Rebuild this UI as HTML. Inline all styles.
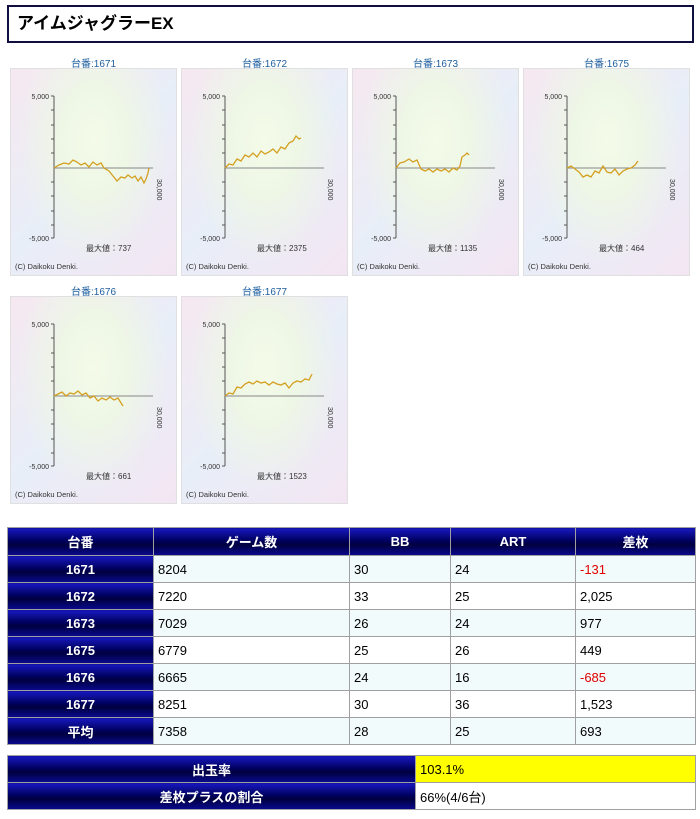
<!DOCTYPE html>
<html><head><meta charset="utf-8"><style>
body{margin:0;width:700px;height:819px;background:#fff;font-family:"Liberation Sans","Noto Sans CJK JP",sans-serif;position:relative;overflow:hidden}
.title{position:absolute;left:7px;top:5px;height:34px;border:2px solid #101040;font-weight:bold;font-size:17px;line-height:34px;padding-left:8px;box-sizing:content-box;width:675px}
.ct{position:absolute;width:167px;text-align:center;font-size:10px;color:#2060a0}
.pn{position:absolute;width:167px;height:208px;border:1px solid #e0e0e0;box-sizing:border-box;
background:radial-gradient(ellipse at 50% 35%,#f4fbe8 0%,#eef6e6 30%,rgba(230,230,245,0) 65%),linear-gradient(135deg,#f6e8f0,#e8eef8 50%,#f3e6f2)}
.pn svg{position:absolute;left:0;top:0}
table{position:absolute;border-collapse:collapse;font-size:13px}
td{border:1px solid #a0a0a0;height:27px;padding:0 0 0 4px;box-sizing:border-box}
th,table td.h,table tr.a td.h{background:linear-gradient(#1818c0,#000060 45%,#000040 60%,#0a0a90);color:#fff;font-weight:bold;text-align:center;border:1px solid #a0a0a0;font-size:13px;padding:0}
tr.a td{background:#f2fbfb}
.r{color:#e00000}
</style></head><body>
<div class="title">アイムジャグラーEX</div>

<div class="ct" style="left:10px;top:55px">台番:1671</div>
<div class="ct" style="left:181px;top:55px">台番:1672</div>
<div class="ct" style="left:352px;top:55px">台番:1673</div>
<div class="ct" style="left:523px;top:55px">台番:1675</div>
<div class="ct" style="left:10px;top:283px">台番:1676</div>
<div class="ct" style="left:181px;top:283px">台番:1677</div>

<svg width="0" height="0" style="position:absolute"><defs>
<g id="ax" font-family="Liberation Sans,sans-serif" font-size="7" fill="#333">
<line x1="43" y1="27" x2="43" y2="169" stroke="#555"/>
<line x1="43" y1="99" x2="142" y2="99" stroke="#888"/>
<g stroke="#555"><line x1="40" y1="27" x2="43" y2="27"/><line x1="40" y1="41" x2="43" y2="41"/><line x1="40" y1="56" x2="43" y2="56"/><line x1="40" y1="70" x2="43" y2="70"/><line x1="40" y1="84" x2="43" y2="84"/><line x1="40" y1="113" x2="43" y2="113"/><line x1="40" y1="127" x2="43" y2="127"/><line x1="40" y1="142" x2="43" y2="142"/><line x1="40" y1="156" x2="43" y2="156"/><line x1="40" y1="169" x2="43" y2="169"/></g>
<text x="38" y="30" text-anchor="end">5,000</text>
<text x="38" y="172" text-anchor="end">-5,000</text>
<text transform="translate(146,110) rotate(90)" >30,000</text>
<text x="4" y="200" font-size="7.5">(C) Daikoku Denki.</text>
</g></defs></svg>

<div class="pn" style="left:10px;top:68px"><svg width="167" height="208"><use href="#ax"/><text x="75" y="182" font-size="8" fill="#333">最大値：737</text>
<polyline fill="none" stroke="#d4a020" stroke-width="1.3" points="43,99 48,96 53,94 58,95 62,91 66,93 70,96 74,94 78,98 82,93 86,96 90,94 93,99 98,102 102,107 106,112 110,108 114,109 117,106 121,109 124,107 127,112 130,108 133,114 135,110 137,104 138,99"/></svg></div>

<div class="pn" style="left:181px;top:68px"><svg width="167" height="208"><use href="#ax"/><text x="75" y="182" font-size="8" fill="#333">最大値：2375</text>
<polyline fill="none" stroke="#d4a020" stroke-width="1.3" points="43,99 47,95 51,96 55,90 59,92 63,86 67,88 71,84 75,88 79,82 83,85 87,83 91,80 95,84 99,78 103,80 107,74 111,72 114,67 117,70 119,69"/></svg></div>

<div class="pn" style="left:352px;top:68px"><svg width="167" height="208"><use href="#ax"/><text x="75" y="182" font-size="8" fill="#333">最大値：1135</text>
<polyline fill="none" stroke="#d4a020" stroke-width="1.3" points="43,99 47,94 51,93 56,90 60,93 64,91 68,100 72,102 76,100 80,103 84,100 88,102 92,100 96,103 100,99 104,101 107,97 109,88 112,86 114,84 116,86"/></svg></div>

<div class="pn" style="left:523px;top:68px"><svg width="167" height="208"><use href="#ax"/><text x="75" y="182" font-size="8" fill="#333">最大値：464</text>
<polyline fill="none" stroke="#d4a020" stroke-width="1.3" points="43,99 47,97 51,100 55,103 59,108 63,106 67,108 71,102 75,104 79,97 83,103 87,104 91,100 95,106 99,102 103,100 107,99 111,96 114,92"/></svg></div>

<div class="pn" style="left:10px;top:296px"><svg width="167" height="208"><use href="#ax"/><text x="75" y="182" font-size="8" fill="#333">最大値：661</text>
<polyline fill="none" stroke="#d4a020" stroke-width="1.3" points="43,99 47,97 51,95 55,99 59,96 63,97 67,94 71,98 75,96 79,101 83,99 87,104 91,101 95,103 99,100 103,103 107,101 110,106 112,109"/></svg></div>

<div class="pn" style="left:181px;top:296px"><svg width="167" height="208"><use href="#ax"/><text x="75" y="182" font-size="8" fill="#333">最大値：1523</text>
<polyline fill="none" stroke="#d4a020" stroke-width="1.3" points="43,99 47,96 51,97 55,90 59,91 63,87 67,85 71,87 75,84 79,86 83,85 87,88 91,85 95,87 99,88 103,86 107,91 111,86 115,84 119,85 123,82 127,83 130,77"/></svg></div>

<table style="left:7px;top:527px;width:689px">
<tr style="height:28px"><th style="width:145px">台番</th><th style="width:195px">ゲーム数</th><th style="width:100px">BB</th><th style="width:124px">ART</th><th>差枚</th></tr>
<tr class="a"><td class="h">1671</td><td>8204</td><td>30</td><td>24</td><td class="r">-131</td></tr>
<tr><td class="h">1672</td><td>7220</td><td>33</td><td>25</td><td>2,025</td></tr>
<tr class="a"><td class="h">1673</td><td>7029</td><td>26</td><td>24</td><td>977</td></tr>
<tr><td class="h">1675</td><td>6779</td><td>25</td><td>26</td><td>449</td></tr>
<tr class="a"><td class="h">1676</td><td>6665</td><td>24</td><td>16</td><td class="r">-685</td></tr>
<tr><td class="h">1677</td><td>8251</td><td>30</td><td>36</td><td>1,523</td></tr>
<tr class="a"><td class="h">平均</td><td>7358</td><td>28</td><td>25</td><td>693</td></tr>
</table>

<table style="left:7px;top:755px;width:689px">
<tr><td class="h" style="width:408px">出玉率</td><td style="background:#ffff00">103.1%</td></tr>
<tr><td class="h">差枚プラスの割合</td><td>66%(4/6台)</td></tr>
</table>
</body></html>
